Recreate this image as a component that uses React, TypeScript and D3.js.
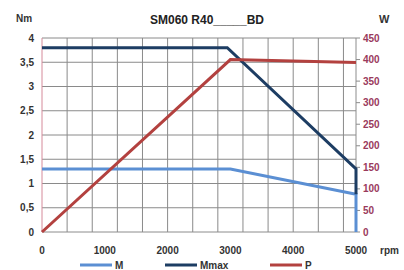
import React, { useEffect, useRef } from 'react';
import * as d3 from 'd3';

// Chart data
const rpmTicks = [0, 1000, 2000, 3000, 4000, 5000];
const torqueTicks = [0, 0.5, 1, 1.5, 2, 2.5, 3, 3.5, 4];
const powerTicks = [0, 50, 100, 150, 200, 250, 300, 350, 400, 450];

const mRpm = [0, 3000, 5000, 5000];
const mValues = [1.3, 1.3, 0.78, 0];

const mmaxRpm = [0, 2950, 5000, 5000];
const mmaxValues = [3.8, 3.8, 1.3, 0.78];

const pRpm = [0, 3000, 5000];
const pValues = [0, 400, 393];

const legendNames = ['M', 'Mmax', 'P'];
const seriesColors = ['#5b8fd3', '#1d3d63', '#b3413f'];

const WIDTH = 404;
const HEIGHT = 270;

const App = () => {
  const ref = useRef(null);

  useEffect(() => {
    if (!ref.current) return;
    const svg = d3.select(ref.current);
    svg.selectAll('*').remove();

    const margin = { top: 38, right: 48, bottom: 38, left: 42 };
    const innerWidth = WIDTH - margin.left - margin.right;
    const innerHeight = HEIGHT - margin.top - margin.bottom;
    const font = '"Liberation Sans", Arial, sans-serif';

    const x = d3.scaleLinear().domain([0, 5000]).range([0, innerWidth]);
    const yLeft = d3.scaleLinear().domain([0, 4]).range([innerHeight, 0]);
    const yRight = d3.scaleLinear().domain([0, 450]).range([innerHeight, 0]);

    const chart = svg.append('g')
      .attr('transform', `translate(${margin.left}, ${margin.top})`);

    // vertical grid every 400 rpm
    chart.selectAll('.vgrid')
      .data(d3.range(400, 5000, 400))
      .enter()
      .append('line')
      .attr('x1', d => x(d))
      .attr('x2', d => x(d))
      .attr('y1', 0)
      .attr('y2', innerHeight)
      .attr('stroke', '#8a8a8a')
      .attr('stroke-width', 1);

    // horizontal grid
    chart.selectAll('.hgrid')
      .data(torqueTicks.slice(1))
      .enter()
      .append('line')
      .attr('x1', 0)
      .attr('x2', innerWidth)
      .attr('y1', d => yLeft(d))
      .attr('y2', d => yLeft(d))
      .attr('stroke', '#8a8a8a')
      .attr('stroke-width', 1);

    // axes lines
    chart.append('line')
      .attr('x1', 0).attr('x2', innerWidth)
      .attr('y1', innerHeight).attr('y2', innerHeight)
      .attr('stroke', '#8c8c8c');
    chart.append('line')
      .attr('x1', 0).attr('x2', 0)
      .attr('y1', 0).attr('y2', innerHeight)
      .attr('stroke', '#d58a9a');
    chart.append('line')
      .attr('x1', innerWidth).attr('x2', innerWidth)
      .attr('y1', 0).attr('y2', innerHeight)
      .attr('stroke', '#8c8c8c');

    // right axis ticks
    chart.selectAll('.rtick')
      .data(powerTicks)
      .enter()
      .append('line')
      .attr('x1', innerWidth)
      .attr('x2', innerWidth + 4)
      .attr('y1', d => yRight(d))
      .attr('y2', d => yRight(d))
      .attr('stroke', '#8c8c8c');

    // left labels
    chart.selectAll('.llabel')
      .data(torqueTicks)
      .enter()
      .append('text')
      .attr('x', -8)
      .attr('y', d => yLeft(d))
      .attr('dy', '0.35em')
      .style('text-anchor', 'end')
      .style('font-family', font)
      .style('font-weight', 'bold')
      .style('font-size', '10px')
      .attr('fill', '#333')
      .text(d => String(d).replace('.', ','));

    // right labels
    chart.selectAll('.rlabel')
      .data(powerTicks)
      .enter()
      .append('text')
      .attr('x', innerWidth + 7)
      .attr('y', d => yRight(d))
      .attr('dy', '0.35em')
      .style('text-anchor', 'start')
      .style('font-family', font)
      .style('font-weight', 'bold')
      .style('font-size', '10px')
      .attr('fill', '#9a3a5c')
      .text(d => d);

    // x labels
    chart.selectAll('.xlabel')
      .data(rpmTicks)
      .enter()
      .append('text')
      .attr('x', d => x(d))
      .attr('y', innerHeight + 18)
      .attr('dy', '0.35em')
      .style('text-anchor', 'middle')
      .style('font-family', font)
      .style('font-weight', 'bold')
      .style('font-size', '10px')
      .attr('fill', '#333')
      .text(d => d);

    // series lines
    const lineLeft = d3.line<[number, number]>()
      .x(d => x(d[0]))
      .y(d => yLeft(d[1]));
    const lineRight = d3.line<[number, number]>()
      .x(d => x(d[0]))
      .y(d => yRight(d[1]));

    const mPoints = mRpm.map((r, i) => [r, mValues[i]] as [number, number]);
    const mmaxPoints = mmaxRpm.map((r, i) => [r, mmaxValues[i]] as [number, number]);
    const pPoints = pRpm.map((r, i) => [r, pValues[i]] as [number, number]);

    chart.append('path')
      .datum(mPoints)
      .attr('fill', 'none')
      .attr('stroke', seriesColors[0])
      .attr('stroke-width', 3)
      .attr('d', lineLeft);

    chart.append('path')
      .datum(mmaxPoints)
      .attr('fill', 'none')
      .attr('stroke', seriesColors[1])
      .attr('stroke-width', 3)
      .attr('d', lineLeft);

    chart.append('path')
      .datum(pPoints)
      .attr('fill', 'none')
      .attr('stroke', seriesColors[2])
      .attr('stroke-width', 3)
      .attr('d', lineRight);

    // title and unit labels
    svg.append('text')
      .attr('x', 207)
      .attr('y', 24)
      .style('text-anchor', 'middle')
      .style('font-family', font)
      .style('font-weight', 'bold')
      .style('font-size', '12px')
      .attr('fill', '#222')
      .text('SM060 R40_____BD');

    svg.append('text')
      .attr('x', 16)
      .attr('y', 22)
      .style('font-family', font)
      .style('font-weight', 'bold')
      .style('font-size', '10px')
      .attr('fill', '#333')
      .text('Nm');

    svg.append('text')
      .attr('x', 379)
      .attr('y', 23)
      .style('font-family', font)
      .style('font-weight', 'bold')
      .style('font-size', '11px')
      .attr('fill', '#333')
      .text('W');

    svg.append('text')
      .attr('x', 380)
      .attr('y', margin.top + innerHeight + 18)
      .attr('dy', '0.35em')
      .style('font-family', font)
      .style('font-weight', 'bold')
      .style('font-size', '10px')
      .attr('fill', '#333')
      .text('rpm');

    // legend
    const legendX = [80, 165, 270];
    const legend = svg.selectAll('.legend')
      .data(legendNames)
      .enter()
      .append('g')
      .attr('transform', (d, i) => `translate(${legendX[i]}, 265)`);
    legend.append('line')
      .attr('x1', 0).attr('x2', 32)
      .attr('y1', 0).attr('y2', 0)
      .attr('stroke', (d, i) => seriesColors[i])
      .attr('stroke-width', 3);
    legend.append('text')
      .attr('x', 35)
      .attr('y', 0)
      .attr('dy', '0.35em')
      .style('font-family', font)
      .style('font-weight', 'bold')
      .style('font-size', '10px')
      .attr('fill', '#333')
      .text(d => d);
  }, []);

  return (
    <svg
      ref={ref}
      width={WIDTH}
      height={HEIGHT}
      style={{ position: 'absolute', left: 0, top: 0, background: '#fff' }}
    />
  );
};

export default App;
